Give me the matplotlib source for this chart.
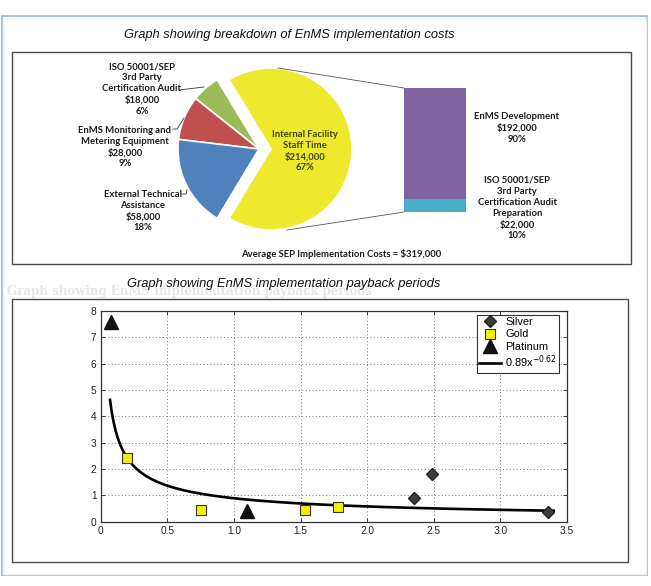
import numpy as np
import matplotlib
matplotlib.use("Agg")
import matplotlib.pyplot as plt
from matplotlib.patches import Rectangle
from matplotlib.lines import Line2D

# ---------------- data ----------------
pie_labels = ["Internal Facility\nStaff Time",
              "ISO 50001/SEP\n3rd Party\nCertification Audit",
              "EnMS Monitoring and\nMetering Equipment",
              "External Technical\nAssistance"]
pie_values = [214000, 18000, 28000, 58000]
pie_pcts = [67, 6, 9, 18]
pie_colors = ["#EEE92C", "#9BBB59", "#C0504D", "#4F81BD"]

bar_labels = ["EnMS Development",
              "ISO 50001/SEP\n3rd Party\nCertification Audit\nPreparation"]
bar_values = [192000, 22000]
bar_pcts = [90, 10]
bar_colors = ["#8064A2", "#4BACC6"]
total_cost = 319000

silver_x = [2.35, 2.49, 3.36]
silver_y = [0.90, 1.82, 0.37]
gold_x = [0.20, 0.75, 1.53, 1.78]
gold_y = [2.40, 0.45, 0.45, 0.57]
platinum_x = [0.08, 1.10]
platinum_y = [7.60, 0.42]
fit_a = 0.89
fit_b = -0.62
fit_range = [0.07, 3.40]

x_ticks = [0, 0.5, 1.0, 1.5, 2.0, 2.5, 3.0, 3.5]
x_ticklabels = ["0", "0.5", "1.0", "1.5", "2.0", "2.5", "3.0", "3.5"]
y_ticks = [0, 1, 2, 3, 4, 5, 6, 7, 8]

# ---------------- layout ----------------
W, H = 651, 586
fig = plt.figure(figsize=(W / 100, H / 100), dpi=100, facecolor="white")


def px_axes(x0, y0, x1, y1, **kw):
    return fig.add_axes([x0 / W, 1 - y1 / H, (x1 - x0) / W, (y1 - y0) / H], **kw)


bg = px_axes(0, 0, W, H)
bg.set_xlim(0, W)
bg.set_ylim(H, 0)
bg.axis("off")
bg.set_zorder(0)

# outer panel
bg.add_patch(Rectangle((1.5, 16), 645.5, 559, fill=False, edgecolor="#A8BEDA", lw=1.4))
bg.add_patch(Rectangle((3, 17.5), 642.5, 556, fill=False, edgecolor="#ECEFF3", lw=1.0))
# boxes
bg.add_patch(Rectangle((11.5, 52), 619, 212, fill=False, edgecolor="#4a4a4a", lw=1.0))
bg.add_patch(Rectangle((11.5, 299), 616.5, 263, fill=False, edgecolor="#4a4a4a", lw=1.0))

# faint ghost text behind second title
bg.text(7, 291, "Graph showing EnMS implementation payback periods", ha="left", va="center",
        family="DejaVu Serif", fontweight="bold", fontsize=8.6, color="#E6E6E6")

# ---------------- pie ----------------
cx, cy, r = 259, 149, 81
half = 110
pax = px_axes(cx - half, cy - half, cx + half, cy + half)
pax.set_zorder(1)
start = -180.0 * pie_values[0] / sum(pie_values)
explode = [12 / r, 0, 0, 0]
pax.pie(pie_values, colors=pie_colors, startangle=start, counterclock=True,
        explode=explode, radius=1.0,
        wedgeprops=dict(edgecolor="white", linewidth=1.2))
pax.set_xlim(-half / r, half / r)
pax.set_ylim(-half / r, half / r)
pax.set_aspect("auto")
pax.axis("off")

# ---------------- bar of pie ----------------
bx0, bx1, by0, by1 = 404, 466, 88, 212
bax = px_axes(bx0, by0, bx1, by1)
bax.set_zorder(1)
bottoms = [bar_values[1], 0]
bax.bar([0, 0], bar_values, bottom=bottoms, width=1.0, color=bar_colors, edgecolor="none")
bax.set_xlim(-0.5, 0.5)
bax.set_ylim(0, sum(bar_values))
bax.axis("off")

# ---------------- payback scatter ----------------
ax = px_axes(100.7, 311, 567, 521.7)
ax.set_zorder(2)
ax.set_xlim(0, 3.5)
ax.set_ylim(0, 8)
ax.grid(True, linestyle=(0, (1, 2.5)), color="#777777", linewidth=0.7)
ax.set_axisbelow(True)

xf = np.linspace(fit_range[0], fit_range[1], 300)
ax.plot(silver_x, silver_y, linestyle="none", marker="D", markersize=6.2,
        color="#3C3C3C", markeredgecolor="#222222", label="Silver", zorder=3)
ax.plot(gold_x, gold_y, linestyle="none", marker="s", markersize=7.2,
        color="#F2F200", markeredgecolor="#333333", markeredgewidth=0.8, label="Gold", zorder=3)
ax.plot(platinum_x, platinum_y, linestyle="none", marker="^", markersize=9.5,
        color="#111111", markeredgecolor="#111111", label="Platinum", zorder=3)
ax.plot(xf, fit_a * xf ** fit_b, color="black", lw=1.9,
        label=f"{fit_a}x$^{{{fit_b}}}$", zorder=2)

ax.set_xticks(x_ticks)
ax.set_xticklabels(x_ticklabels)
ax.set_yticks(y_ticks)
ax.tick_params(direction="in", length=3, width=0.6, top=True, right=True,
               labelsize=7.3, colors="#222222", pad=3)
for t in ax.get_xticklabels() + ax.get_yticklabels():
    t.set_family("Liberation Sans")
for s in ax.spines.values():
    s.set_color("#333333")
    s.set_linewidth(0.9)

leg = ax.legend(loc="upper right", bbox_to_anchor=(0.983, 0.981), borderaxespad=0,
                frameon=True, fancybox=False, edgecolor="#333333", framealpha=1,
                handlelength=2.0, handletextpad=0.35, borderpad=0.2,
                labelspacing=0.2, prop=dict(family="Liberation Sans", size=7.9))
leg.get_frame().set_linewidth(0.8)

# ---------------- foreground overlay (texts, lines) ----------------
fg = px_axes(0, 0, W, H)
fg.set_xlim(0, W)
fg.set_ylim(H, 0)
fg.axis("off")
fg.patch.set_alpha(0)
fg.set_zorder(5)

tfont = dict(family="Liberation Sans", style="italic", fontsize=9.3, color="#111111")
fg.text(289.5, 35, "Graph showing breakdown of EnMS implementation costs",
        ha="center", va="center", **tfont)
fg.text(284, 284, "Graph showing EnMS implementation payback periods",
        ha="center", va="center", **tfont)

lfont = dict(family="Lato", fontweight="bold", fontsize=6.8, linespacing=1.28)


def lab(i):
    return f"{pie_labels[i]}\n${pie_values[i]:,}\n{pie_pcts[i]}%"


fg.text(305, 151, lab(0), ha="center", va="center", color="#3A4514", **lfont)
fg.text(142, 89, lab(1), ha="center", va="center", color="#1a1a1a", **lfont)
fg.text(125, 147, lab(2), ha="center", va="center", color="#1a1a1a", **lfont)
fg.text(143, 211, lab(3), ha="center", va="center", color="#1a1a1a", **lfont)
fg.text(341, 254, f"Average SEP Implementation Costs = ${total_cost:,}",
        ha="center", va="center", color="#1a1a1a", **lfont)

fg.text(517, 128, f"{bar_labels[0]}\n${bar_values[0]:,}\n{bar_pcts[0]}%",
        ha="center", va="center", color="#1a1a1a", **lfont)
fg.text(517, 208, f"{bar_labels[1]}\n${bar_values[1]:,}\n{bar_pcts[1]}%",
        ha="center", va="center", color="#1a1a1a", **lfont)

# leader lines
lc = dict(color="#333333", lw=0.6)
fg.add_line(Line2D([179, 204], [90, 87], **lc))
fg.add_line(Line2D([173, 177, 184], [129, 129, 118], **lc))
fg.add_line(Line2D([182, 186, 187], [194, 194, 190], **lc))

# series lines pie -> bar
fg.add_line(Line2D([278, bx0], [68, by0], color="#555555", lw=0.6))
fg.add_line(Line2D([287, bx0], [230, by1], color="#555555", lw=0.6))

fig.savefig("out.png", dpi=100, facecolor="white")
